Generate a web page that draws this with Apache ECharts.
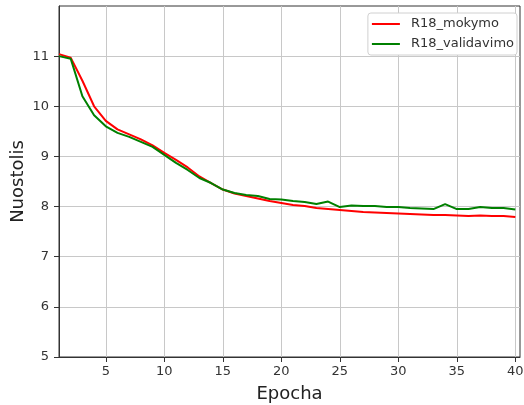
<!DOCTYPE html>
<html>
<head>
<meta charset="utf-8">
<script src="https://cdn.jsdelivr.net/npm/echarts@6/dist/echarts.min.js"></script>
<style>
  html, body { margin: 0; padding: 0; background: #fff; }
  #chart { width: 524px; height: 405px; }
</style>
</head>
<body>
<div id="chart"></div>
<script>
const epochs = []
for (let i = 1; i <= 40; i++) epochs.push(i)

const mokymo = [11.04, 10.97, 10.51, 10.0, 9.71, 9.54, 9.44, 9.34, 9.22, 9.07,
  8.93, 8.78, 8.6, 8.47, 8.34, 8.26, 8.21, 8.16, 8.11, 8.07,
  8.03, 8.01, 7.97, 7.95, 7.93, 7.91, 7.89, 7.88, 7.87, 7.86,
  7.85, 7.84, 7.83, 7.83, 7.82, 7.81, 7.82, 7.81, 7.81, 7.79]
const validavimo = [11.0, 10.95, 10.2, 9.82, 9.6, 9.47, 9.39, 9.29, 9.19, 9.03,
  8.87, 8.73, 8.57, 8.47, 8.34, 8.27, 8.23, 8.21, 8.15, 8.14,
  8.11, 8.09, 8.05, 8.1, 7.99, 8.02, 8.01, 8.01, 7.99, 7.99,
  7.97, 7.96, 7.95, 8.05, 7.95, 7.95, 7.99, 7.97, 7.97, 7.94]

const xTicks = [5, 10, 15, 20, 25, 30, 35, 40]
const yTicks = [5, 6, 7, 8, 9, 10, 11]

const font = 'DejaVu Sans'
const chart = echarts.init(document.getElementById('chart'))
chart.setOption({
  animation: false,
  textStyle: { fontFamily: font },
  grid: {
    left: 59, right: 4, top: 6, bottom: 48,
    outerBoundsMode: 'none',
    show: true, borderColor: '#333', borderWidth: 1, backgroundColor: 'transparent'
  },
  legend: {
    orient: 'vertical',
    right: 7, top: 13,
    backgroundColor: '#fff',
    borderColor: '#d0d0d0', borderWidth: 1, borderRadius: 3,
    padding: [4, 3, 4, 4],
    itemGap: 6,
    itemWidth: 28, itemHeight: 2,
    icon: 'rect',
    textStyle: { fontFamily: font, fontSize: 13, color: '#333', lineHeight: 14, padding: [0, 0, 0, 6] },
    data: ['R18_mokymo', 'R18_validavimo']
  },
  xAxis: {
    type: 'value',
    min: 1, max: 40.4,
    name: 'Epocha',
    nameLocation: 'middle',
    nameGap: 28,
    nameMoveOverlap: false,
    nameTextStyle: { fontFamily: font, fontSize: 18, color: '#222' },
    axisLine: { show: true, lineStyle: { color: '#333' } },
    axisTick: { show: true, length: 5, customValues: xTicks, lineStyle: { color: '#333' } },
    axisLabel: { customValues: xTicks, color: '#333', fontSize: 13, margin: 8, fontFamily: font },
    splitLine: { show: true, lineStyle: { color: '#c8c8c8', width: 1 } }
  },
  yAxis: {
    type: 'value',
    min: 5, max: 12,
    name: 'Nuostolis',
    nameLocation: 'middle',
    nameGap: 32,
    nameMoveOverlap: false,
    nameTextStyle: { fontFamily: font, fontSize: 18, color: '#222' },
    axisLine: { show: true, lineStyle: { color: '#333' } },
    axisTick: { show: true, length: 5, customValues: yTicks, lineStyle: { color: '#333' } },
    axisLabel: { customValues: yTicks, color: '#333', fontSize: 13, margin: 10, fontFamily: font },
    splitLine: { show: true, lineStyle: { color: '#c8c8c8', width: 1 } }
  },
  series: [
    {
      name: 'R18_mokymo',
      type: 'line',
      data: epochs.map((e, i) => [e, mokymo[i]]),
      showSymbol: false,
      lineStyle: { color: '#ff0000', width: 2 },
      itemStyle: { color: '#ff0000' }
    },
    {
      name: 'R18_validavimo',
      type: 'line',
      data: epochs.map((e, i) => [e, validavimo[i]]),
      showSymbol: false,
      lineStyle: { color: '#008000', width: 2 },
      itemStyle: { color: '#008000' }
    }
  ]
})
</script>
</body>
</html>
